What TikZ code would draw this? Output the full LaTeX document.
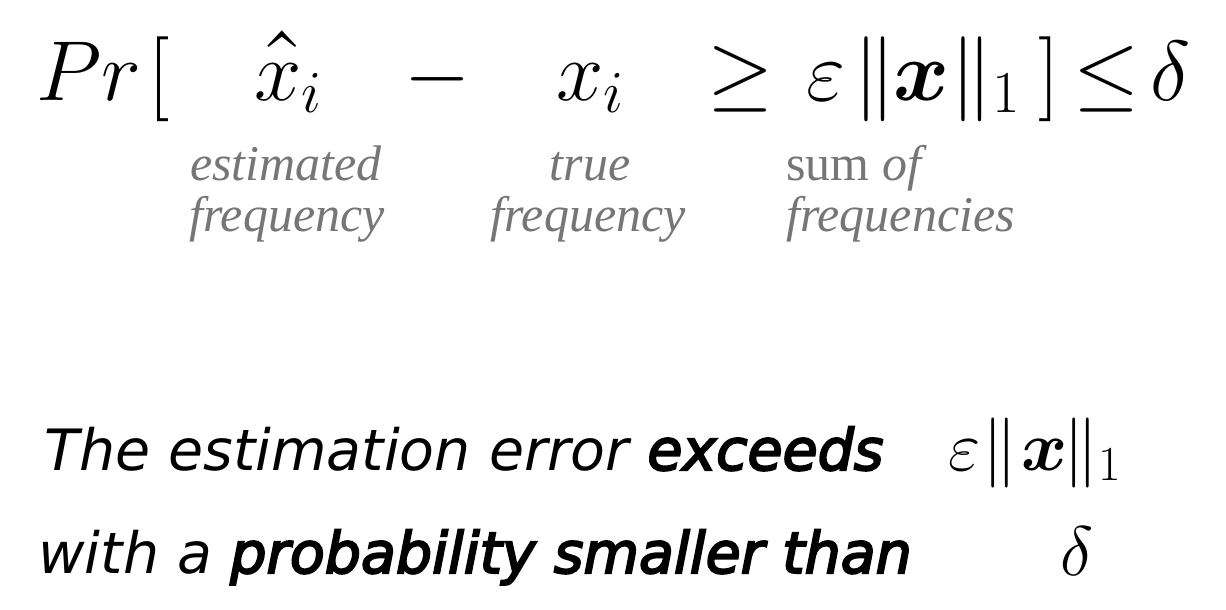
\RequirePackage{fix-cm}
\documentclass[tikz,border=0pt]{standalone}
\usepackage{amsmath,bm}
\usepackage[no-math]{fontspec}
\newfontfamily\djv{DejaVu Sans}[ItalicFont={DejaVu Sans Oblique},BoldItalicFont={DejaVu Sans Oblique},BoldItalicFeatures={FakeBold=3.5}]
\newfontfamily\lblfont{Liberation Serif}
\definecolor{lblgray}{RGB}{118,118,118}
\tikzset{
  big/.style={anchor=base west,inner sep=0pt,font=\fontsize{85}{85}\selectfont},
  mid/.style={anchor=base west,inner sep=0pt,font=\fontsize{70}{70}\selectfont},
  lbl/.style={anchor=base,inner sep=0pt,text=lblgray,font=\fontsize{50}{50}\selectfont\lblfont\itshape},
  lblw/.style={lbl,anchor=base west},
  sent/.style={anchor=base west,inner sep=0pt,font=\fontsize{57}{57}\selectfont\djv\itshape}
}
\begin{document}
\begin{tikzpicture}[x=1pt,y=-1pt]
\fill[white] (0,0) rectangle (1226,610);
\useasboundingbox (0,0) rectangle (1226,610);
% top formula
\node[big] (pr) at (36,100) {$Pr$};
\node[big] (lb) at (148,100) {$[$};
\node[big] (xh) at (254,100) {$x_i$};
\node[anchor=base,inner sep=0pt,font=\fontsize{95}{95}\selectfont] (hat) at (282,96) {\char"02C6};
\node[big] (mn) at (404,100) {$-$};
\node[big] (xi) at (556,100) {$x_i$};
\node[big] (ge) at (707,100) {$\geq$};
\node[big] (ep) at (806,100) {$\varepsilon$};
\node[big] (n1) at (853,100) {$\|$};
\node[big] (bx) at (893,100) {$\bm{x}$};
\node[big] (n2) at (950,100) {$\|_1$};
\node[big] (rb) at (1038,100) {$]$};
\node[big] (le) at (1073,100) {$\leq$};
\node[big] (de) at (1150,100) {$\delta$};
% labels
\node[lbl] (l1a) at (286,180) {estimated};
\node[lbl] (l1b) at (287,231) {frequency};
\node[lbl] (l2a) at (590,180) {true};
\node[lbl] (l2b) at (588,231) {frequency};
\node[lblw] (l3a) at (786,180) {\upshape sum \itshape of};
\node[lblw] (l3b) at (786,231) {frequencies};
% sentences
\node[sent] (s1) at (44,470) {The estimation error \textbf{exceeds}};
\node[sent] (s2) at (38,573) {with a \textbf{probability smaller than}};
\node[mid] (bep) at (948,470) {$\varepsilon$};
\node[mid] (bn1) at (982,470) {$\|$};
\node[mid] (bx2) at (1021,470) {$\bm{x}$};
\node[mid] (bn2) at (1063,470) {$\|_1$};
\node[mid] (bde) at (1060,575) {$\delta$};
\end{tikzpicture}
\end{document}
